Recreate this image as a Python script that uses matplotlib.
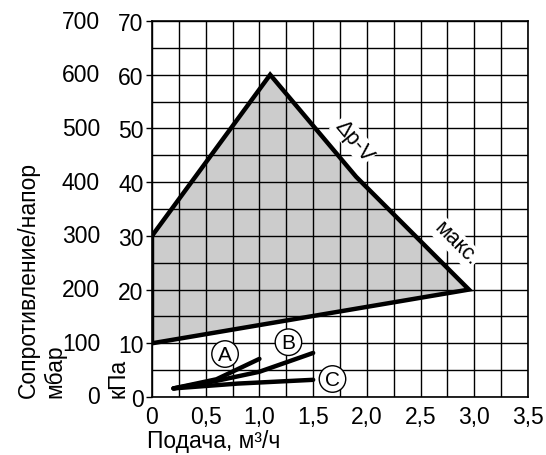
import matplotlib
matplotlib.use("Agg")
import matplotlib.pyplot as plt
import matplotlib.transforms as mtransforms
import numpy as np

plt.rcParams['font.family'] = ['Liberation Sans', 'DejaVu Sans']

# main operating area (flow m3/h, head kPa)
area_x = [0, 1.1, 1.9, 2.95, 0]
area_y = [30, 60, 41, 20, 10]

# system curves
a_x = [0.2, 0.6, 0.8, 1.0]
a_y = [1.6, 3.3, 5.2, 7.1]
b_x = [0.2, 0.6, 1.0, 1.5]
b_y = [1.6, 3.0, 4.7, 8.2]
c_x = [0.2, 0.8, 1.5]
c_y = [1.6, 2.5, 3.2]

kpa_ticks = [0, 10, 20, 30, 40, 50, 60, 70]
mbar_labels = ['0', '100', '200', '300', '400', '500', '600', '700']
x_ticks = [0, 0.5, 1.0, 1.5, 2.0, 2.5, 3.0, 3.5]
x_labels = ['0', '0,5', '1,0', '1,5', '2,0', '2,5', '3,0', '3,5']

fs = 16.5
fig = plt.figure(figsize=(5.46, 4.56), dpi=100)
ax = fig.add_axes([152/546, 58/456, 376/546, 376/456])

ax.set_xlim(0, 3.5)
ax.set_ylim(0, 70)
ax.set_xticks(np.arange(0, 3.51, 0.25), minor=True)
ax.set_yticks(np.arange(0, 70.1, 5), minor=True)
ax.grid(True, which='both', color='black', linewidth=1.0, zorder=1)
ax.set_axisbelow(True)
ax.tick_params(which='minor', length=0)
ax.set_xticks(x_ticks)
ax.set_xticklabels(x_labels, fontsize=fs)
ax.set_yticks(kpa_ticks)
ax.set_yticklabels([str(v) for v in kpa_ticks], fontsize=fs)
ax.tick_params(axis='x', length=0, pad=6)
ax.tick_params(axis='y', length=4, width=1, pad=2)
for s in ax.spines.values():
    s.set_linewidth(1.2)

# gray fill under the grid, outline on top
ax.fill(area_x, area_y, facecolor='#cccccc', edgecolor='none', zorder=0.2)
ax.plot(area_x + [area_x[0]], area_y + [area_y[0]], color='black', lw=3.2,
        solid_joinstyle='miter', zorder=2)
ax.plot(a_x, a_y, color='black', lw=3.2, solid_capstyle='round', zorder=3)
ax.plot(b_x, b_y, color='black', lw=3.2, solid_capstyle='round', zorder=3)
ax.plot(c_x, c_y, color='black', lw=3.2, solid_capstyle='round', zorder=3)

circ = dict(boxstyle='circle,pad=0.18', facecolor='white', edgecolor='black', linewidth=1.0)
ax.text(0.68, 8.0, 'A', fontsize=15, ha='center', va='center', bbox=circ, zorder=4)
ax.text(1.27, 10.2, 'B', fontsize=15, ha='center', va='center', bbox=circ, zorder=4)
ax.text(1.68, 3.35, 'C', fontsize=15, ha='center', va='center', bbox=circ, zorder=4)

ax.text(1.88, 47.8, 'Δp-V', fontsize=15.5, rotation=-50, ha='center', va='center',
        rotation_mode='anchor', zorder=4,
        bbox=dict(boxstyle='square,pad=0.05', facecolor='white', edgecolor='none'))
ax.text(2.83, 28.6, 'макс.', fontsize=15.5, rotation=-45, ha='center', va='center',
        rotation_mode='anchor', zorder=4,
        bbox=dict(boxstyle='square,pad=0.05', facecolor='white', edgecolor='none'))

# mbar column
trans = mtransforms.blended_transform_factory(fig.transFigure, ax.transData)
for v, lab in zip(kpa_ticks, mbar_labels):
    fig.text(100/546, v, lab, fontsize=fs, ha='right', va='center', transform=trans)

fig.text(28/546, 58/456, 'Сопротивление/напор', fontsize=fs, rotation=90,
         ha='center', va='bottom')
fig.text(55/546, 58/456, 'мбар', fontsize=fs, rotation=90, ha='center', va='bottom')
fig.text(118/546, 58/456, 'кПа', fontsize=fs, rotation=90, ha='center', va='bottom')
fig.text(147/546, 14/456, 'Подача, м³/ч', fontsize=fs, ha='left', va='center')

fig.savefig('out.png', dpi=100)
